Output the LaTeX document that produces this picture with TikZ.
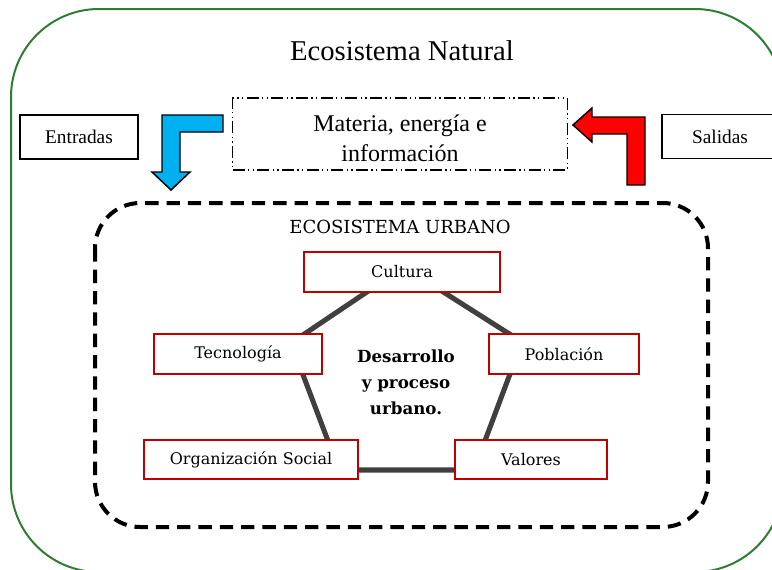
\documentclass[tikz,border=0pt]{standalone}
\usepackage{fontspec}
\setmainfont{Liberation Serif}
\newfontfamily\labelfont{DejaVu Serif}
\usetikzlibrary{calc}
\definecolor{natgreen}{RGB}{46,125,50}
\definecolor{boxred}{RGB}{192,0,0}
\definecolor{inblue}{RGB}{0,176,240}
\definecolor{edgegray}{RGB}{64,64,64}
\tikzset{factor/.style={draw=boxred, line width=1.5pt, fill=white, minimum height=29.5pt, inner sep=0pt,
    font=\labelfont\fontsize{12}{14}\selectfont},
  flowbox/.style={draw, line width=1.4pt, fill=white, minimum height=33pt, inner sep=0pt,
    font=\fontsize{14.5}{17}\selectfont},
  bigarrow/.style={draw, line width=1.1pt, line join=miter},
}

\begin{document}
\begin{tikzpicture}[x=0.75pt,y=-0.75pt]
\path[use as bounding box, clip] (0,0) rectangle (772,569);
\draw[natgreen, line width=1.5pt, rounded corners=66pt] (11,9) rectangle (783,572);
\node[font=\fontsize{21.5}{26}\selectfont] (natural) at (402,51) {Ecosistema Natural};
\node[draw, line width=1.1pt, dash pattern=on 9pt off 2.5pt on 1pt off 2.5pt on 1pt off 2.5pt,
  minimum width=251pt, minimum height=54pt] (materia) at (400,134) {};
\node[align=center, font=\fontsize{18}{22.5}\selectfont] (materiatxt) at ($(materia.center)+(0,4)$)
  {Materia, energía e\\información};
\node[flowbox, minimum width=88.5pt] (entradas) at (79,137) {Entradas};
\node[flowbox, minimum width=87pt] (salidas) at (720,136.5) {Salidas};
% flechas
\draw[bigarrow, fill=inblue] (223,115) -- (162,115) -- (162,172) -- (152,172) -- (171,190)
  -- (190,172) -- (180,172) -- (180,132) -- (223,132) -- cycle;
\draw[bigarrow, fill=red] (573,125) -- (592,108) -- (592,117) -- (645,117) -- (645,185)
  -- (627,185) -- (627,134) -- (592,134) -- (592,142) -- cycle;
% ecosistema urbano
\draw[line width=3pt, dash pattern=on 10pt off 6pt, rounded corners=34pt] (95,203) rectangle (708,527);
\node[font=\labelfont\fontsize{13.5}{16}\selectfont] (urbano) at (400,226.5) {ECOSISTEMA URBANO};
\coordinate (p1) at (404,267);
\coordinate (p2) at (522,342);
\coordinate (p3) at (474,470);
\coordinate (p4) at (339,470);
\coordinate (p5) at (291,343);
\draw[edgegray, line width=3.8pt] (p1) -- (p2) -- (p3) -- (p4) -- (p5) -- cycle;
\foreach \n/\p/\w/\t in {cultura/{402,272}/147/Cultura, tecnologia/{238,354}/126/Tecnología,
    poblacion/{564,354}/112.5/Población, organizacion/{251,459.5}/160.5/Organización Social,
    valores/{531,459.5}/114/Valores}{
	\node[factor, minimum width=\w pt] (\n) at (\p) {\t};
	}
\node[align=center, font=\labelfont\bfseries\fontsize{12.5}{19.5}\selectfont] (centro) at (406,382.5)
  {Desarrollo\\y proceso\\urbano.};
\end{tikzpicture}
\end{document}
